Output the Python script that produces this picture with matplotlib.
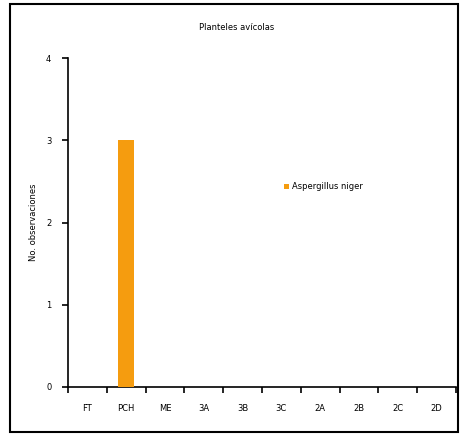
import matplotlib
matplotlib.use("Agg")
import matplotlib.pyplot as plt
from matplotlib.patches import Rectangle

categories = ["FT", "PCH", "ME", "3A", "3B", "3C", "2A", "2B", "2C", "2D"]
values = [0, 3, 0, 0, 0, 0, 0, 0, 0, 0]
series_name = "Aspergillus niger"
title = "Planteles avícolas"
ylabel = "No. observaciones"

W, H = 462, 434
fig = plt.figure(figsize=(W / 100, H / 100), dpi=100)
ax = fig.add_axes([68 / W, 1 - 387 / H, (456 - 68) / W, (387 - 58) / H])

x = list(range(len(categories)))
ax.bar(x, values, width=0.4, color="#F59C0F", label=series_name, zorder=3)

ax.set_xlim(-0.5, len(categories) - 0.5)
ax.set_ylim(0, 4)
ax.set_yticks([0, 1, 2, 3, 4])
ax.set_xticks(x)
ax.set_xticklabels(categories, fontsize=6)
ax.set_xticks([i - 0.5 for i in range(len(categories) + 1)], minor=True)
ax.tick_params(axis="x", which="major", length=0, pad=12)
ax.tick_params(axis="x", which="minor", length=4, width=1.2, direction="out")
ax.tick_params(axis="y", length=4, width=1.2, direction="out", labelsize=6, pad=8)
for s in ["top", "right"]:
    ax.spines[s].set_visible(False)
for s in ["left", "bottom"]:
    ax.spines[s].set_linewidth(1.2)

ax.set_ylabel(ylabel, fontsize=6, labelpad=6)
fig.text(237 / W, 1 - 27 / H, title, fontsize=6, ha="center", va="center")

leg = ax.legend(loc="upper left", bbox_to_anchor=(212 / 388, 1 - (178 - 58) / 329),
                frameon=False, fontsize=6, handlelength=0.6, handleheight=0.6,
                handletextpad=0.3, borderpad=0)

fig.patches.append(Rectangle((10 / W, 1 - 432 / H), (458 - 10) / W, (432 - 4) / H,
                             transform=fig.transFigure, fill=False,
                             edgecolor="black", linewidth=1.5))

fig.savefig("out.png", dpi=100)
